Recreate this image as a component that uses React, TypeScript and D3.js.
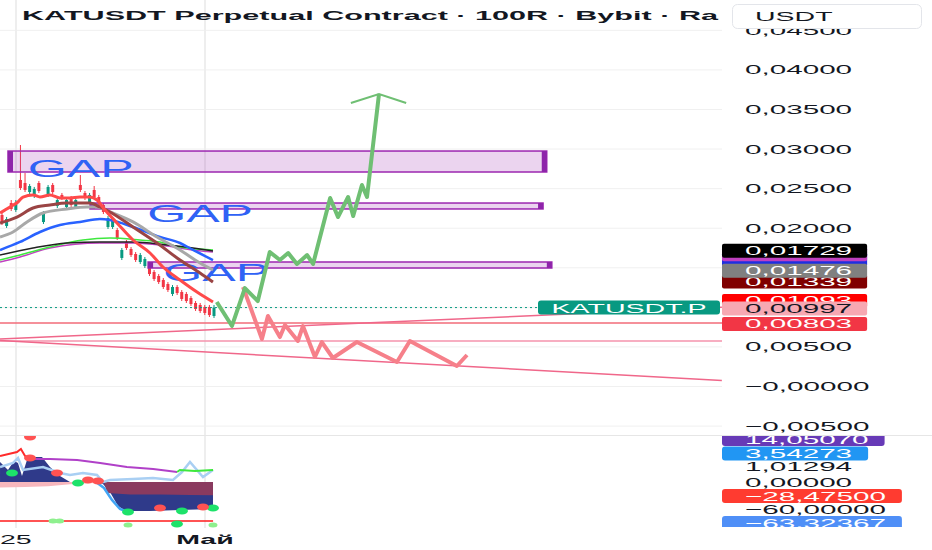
import * as d3 from "d3";
import React from "react";

const W = 932;
const H = 550;
const AXIS_X = 722;
const MAIN_BOTTOM = 435;
const IND_TOP = 436;
const IND_BOTTOM = 528;
const FONT = "'Liberation Sans', Arial, sans-serif";
const SX = 2.28; // the screenshot is stretched horizontally

// ---- candles (bar index = position) ----
const candleOpen = [0.02167, 0.02028, 0.02318, 0.0223, 0.02609, 0.02571, 0.02457, 0.02407, 0.02571, 0.02078, 0.0242, 0.02546, 0.02281, 0.0242, 0.02268, 0.02382, 0.02268, 0.02546, 0.02445, 0.02331, 0.02483, 0.02394, 0.02293, 0.02015, 0.02015, 0.01977, 0.01624, 0.01826, 0.01737, 0.01674, 0.01573, 0.01522, 0.01522, 0.01447, 0.01396, 0.01346, 0.01295, 0.01169, 0.01257, 0.01194, 0.01169, 0.01118, 0.01055, 0.0103, 0.01005, 0.01005, 0.00891];
const candleHigh = [0.02205, 0.02142, 0.02356, 0.02356, 0.03051, 0.02697, 0.02558, 0.02521, 0.02596, 0.02217, 0.02546, 0.02571, 0.02382, 0.02445, 0.02382, 0.02407, 0.02382, 0.02672, 0.0247, 0.02445, 0.02533, 0.0242, 0.02318, 0.02154, 0.02142, 0.02003, 0.0175, 0.01851, 0.01762, 0.01699, 0.01687, 0.01636, 0.01548, 0.01472, 0.01421, 0.01371, 0.0132, 0.01282, 0.01282, 0.01219, 0.01194, 0.01143, 0.0108, 0.01055, 0.0103, 0.0103, 0.0103];
const candleLow = [0.0204, 0.02003, 0.02217, 0.02205, 0.02483, 0.02457, 0.02432, 0.02382, 0.02445, 0.02053, 0.02394, 0.02432, 0.02255, 0.02356, 0.02243, 0.02268, 0.02243, 0.02457, 0.02356, 0.02306, 0.02369, 0.02293, 0.02179, 0.0199, 0.0199, 0.01851, 0.01598, 0.01725, 0.01636, 0.01573, 0.01548, 0.01497, 0.01396, 0.01333, 0.01295, 0.01232, 0.01194, 0.01143, 0.01156, 0.0108, 0.01055, 0.01017, 0.00954, 0.00929, 0.00903, 0.00878, 0.00866];
const candleClose = [0.02078, 0.02116, 0.02243, 0.02318, 0.02508, 0.02483, 0.02533, 0.02495, 0.0247, 0.02192, 0.02521, 0.02457, 0.02356, 0.02382, 0.02356, 0.02293, 0.02356, 0.02483, 0.02382, 0.0242, 0.02394, 0.02318, 0.02205, 0.02129, 0.02116, 0.01876, 0.01725, 0.0175, 0.01661, 0.01598, 0.01661, 0.01611, 0.01421, 0.01358, 0.0132, 0.01257, 0.01219, 0.01257, 0.01181, 0.01106, 0.0108, 0.01042, 0.00979, 0.00954, 0.00929, 0.00903, 0.00997];

// ---- moving averages: [bar, price] ----
const maRed: [number, number][] = [[-0.43, 0.02192], [1.74, 0.02268], [3.47, 0.02331], [4.56, 0.02394], [6.73, 0.0242], [8.24, 0.02394], [10.41, 0.0242], [12.58, 0.02382], [14.75, 0.02382], [16.92, 0.02394], [19.09, 0.02394], [20.61, 0.02356], [22.35, 0.0223], [24.95, 0.02066], [28.42, 0.01851], [32.11, 0.01687], [34.93, 0.0151], [38.62, 0.01346], [42.31, 0.01194], [45.78, 0.01068]];
const maMaroon: [number, number][] = [[-0.43, 0.02066], [3.25, 0.02141], [6.73, 0.02255], [10.41, 0.02293], [14.1, 0.02318], [19.09, 0.02318], [21.26, 0.02268], [23.43, 0.02205], [28.42, 0.02015], [33.63, 0.01813], [38.62, 0.01598], [42.96, 0.01434], [45.78, 0.0132]];
const maGray: [number, number][] = [[-0.43, 0.01889], [2.39, 0.01952], [5.42, 0.02079], [8.9, 0.02192], [14.1, 0.02243], [18.44, 0.02268], [20.61, 0.02268], [23.43, 0.02205], [28.42, 0.02079], [33.63, 0.01889], [38.62, 0.01725], [42.96, 0.0156], [45.78, 0.01472]];
const maBlue: [number, number][] = [[-0.43, 0.01725], [3.91, 0.01826], [8.24, 0.01952], [12.58, 0.0204], [16.92, 0.02079], [21.26, 0.02116], [23.43, 0.02104], [28.42, 0.02015], [34.28, 0.01889], [38.62, 0.01813], [41.44, 0.01725], [45.78, 0.01598]];
const maGreen: [number, number][] = [[-0.43, 0.01598], [3.91, 0.01661], [10.41, 0.01762], [17.57, 0.01851], [23.43, 0.01876], [29.94, 0.01851], [34.28, 0.01826], [38.62, 0.01762], [45.78, 0.01725]];
const maBlack: [number, number][] = [[-0.43, 0.01661], [6.73, 0.0175], [14.1, 0.01813], [21.26, 0.01826], [28.42, 0.01826], [35.8, 0.01788], [41.44, 0.0175], [45.78, 0.01712]];
const maMagenta: [number, number][] = [[-0.43, 0.01573], [3.91, 0.01636], [10.41, 0.0175], [21.26, 0.01813], [28.42, 0.01813], [35.8, 0.01776], [41.44, 0.01725], [45.78, 0.01699]];

// ---- drawings ----
const gapBoxes: { x0: number; x1: number; top: number; bottom: number; textBar: number; textPrice: number }[] = [
  { x0: 1.3, x1: 118.2, top: 0.02975, bottom: 0.0271, textBar: 5.6, textPrice: 0.02647 },
  { x0: 19.1, x1: 117.4, top: 0.02318, bottom: 0.02243, textBar: 31.5, textPrice: 0.02078 },
  { x0: 31.7, x1: 119.3, top: 0.01573, bottom: 0.01497, textBar: 35.0, textPrice: 0.01333 },
];
const greenPath: [number, number][] = [[46.6, 0.01068], [49.9, 0.00765], [52.7, 0.01244], [55.5, 0.0108], [58.1, 0.01699], [60.3, 0.01598], [62.1, 0.01686], [64.0, 0.01548], [66.2, 0.01661], [67.5, 0.01548], [71.2, 0.02381], [72.9, 0.02141], [75.1, 0.02394], [76.2, 0.02154], [78.1, 0.02546], [79.2, 0.02394], [81.8, 0.03695]];
const greenArrow: [number, number][] = [[75.7, 0.03582], [81.8, 0.03695], [87.7, 0.03582]];
const redPath: [number, number][] = [[52.3, 0.01257], [56.4, 0.006], [57.7, 0.00891], [60.3, 0.00625], [61.4, 0.00777], [64.2, 0.00575], [65.3, 0.00764], [67.9, 0.00373], [69.4, 0.00562], [71.8, 0.0036], [77.0, 0.00562], [85.7, 0.00309], [88.5, 0.00575], [98.7, 0.00259], [100.9, 0.00398]];
const hLevels = [0.00803, 0.00575];
const trendUp: [number, number][] = [[-0.43, 0.006], [156.2, 0.01]];
const trendDown: [number, number][] = [[-0.43, 0.0058], [156.2, 0.00076]];
const lastPrice = 0.00997;

// ---- price axis ----
const priceTicks = [0.045, 0.04, 0.035, 0.03, 0.025, 0.02, 0.015, 0.01, 0.005, 0, -0.005];
const priceTickLabels = ["0,04500", "0,04000", "0,03500", "0,03000", "0,02500", "0,02000", "0,01500", "0,01000", "0,00500", "−0,00000", "−0,00500"];
// blue and magenta tags sit almost entirely under their neighbours
const tagValues = [0.0162, 0.01683, 0.01339, 0.01093, 0.01476, 0.01729, 0.00997, 0.00803];
const tagLabels = ["", "", "0,01339", "0,01093", "0,01476", "0,01729", "0,00997", "0,00803"];
const TAG_FILL = ["#1f2fe0", "#c040c0", "#800000", "#ff0000", "#808080", "#000000", "#f7a8b2", "#f23645"];
const TAG_TEXT = ["#fff", "#fff", "#fff", "#fff", "#fff", "#fff", "#131722", "#fff"];

// ---- indicator pane (pane units) ----
const indNavy: [number, number][] = [[-0.43, 43.5], [1.3, 26.1], [2.6, 45.7], [3.47, 41.3], [4.34, 13], [5.42, 47.8], [6.51, 54.3], [8.68, 54.3], [10.41, 32.6], [12.58, 13], [14.75, 0], [20.83, 0], [21.91, -4.3], [23.43, -21.7], [25.17, -52.2], [26.9, -63], [32.11, -63], [38.62, -60.9], [45.78, -58.7]];
const indMaroon: [number, number][] = [[22.13, 0], [22.78, -24], [27.77, -27], [34.28, -27], [40.79, -28], [45.78, -29]];
const indPink: [number, number][] = [[-0.43, -12], [5, -11], [10, -9], [14.75, -5], [20, -2], [21, 0]];
const indLightBlue: [number, number][] = [[-0.43, 32.6], [2.39, 41.3], [3.47, 52.2], [4.56, 26.1], [8.9, 32.6], [12.58, 19.6], [14.75, 15.2], [17.57, 19.6], [20.61, 15.2], [21.91, 0], [23.43, 4.3], [28.42, 6.5], [32.76, 8.7], [37.1, 4.3], [39.05, 21.7], [40.79, 43.5], [43.61, 10.9], [45.78, 26.1]];
const indBlueEdge: [number, number][] = [[20.4, 0], [22.13, -13], [23.86, -39], [25.6, -58.7], [27.34, -65.2]];
const rsiRed: [number, number][] = [[-0.43, 56.5], [3.25, 65.2], [4.1, 71.7], [5.0, 56.5], [6.7, 50]];
const rsiPurple: [number, number][] = [[6.7, 50], [10.4, 50], [16.3, 47.8], [21.3, 41.3], [27.1, 32.6], [32.8, 28.3], [38.0, 21.7]];
const rsiGreen: [number, number][] = [[38.0, 21.7], [38.6, 26.1], [41.9, 23.9], [45.8, 26.1]];
const indLevel = -85;
const greenDots: [number, number][] = [[2.17, 19.6], [16.49, -2.2], [27.34, -65.2], [39.05, -63], [45.78, -56.5], [37.97, -91.3]];
const paleDots: [number, number][] = [[11.07, -85], [12.5, -85], [27.34, -93.5], [45.78, -93.5]];
const redDots: [number, number][] = [[6.08, 52.2], [11.93, 19.6], [18.66, 4.3], [20.83, 2.2], [34.28, -56.5], [43.61, -54.3], [6.08, 97.8]];
const indLabelLevels = [33, 0, -60];
const indLabelTexts = ["1,01294", "0,00000", "−60,00000"];
const indTagLevels = [93.5, 62, -30.4, -89];
const indTagTexts = ["14,05070", "3,54273", "−28,47500", "−63,32367"];
const IND_TAG_FILL = ["#673ab7", "#2196f3", "#ff3b30", "#4f8ff7"];

// ---- time axis ----
const timeGrid = [3.04, 44.04];
const timeLabelBars = [-0.43, 44.04];
const timeLabels = ["25", "Май"];
const TIME_ANCHOR = ["start", "middle"];

const CHAR_W: Record<string, number> = { ",": 0.278, ".": 0.278, "−": 0.584 };
const textW = (s: string, size = 13) =>
  [...(s || "0,00000")].reduce((a, ch) => a + (CHAR_W[ch] ?? 0.556), 0) * size * SX;

const SText: React.FC<{
  x: number; y: number; anchor?: string; size?: number; weight?: number; fill?: string; sx?: number; children: React.ReactNode;
}> = ({ x, y, anchor = "start", size = 13, weight = 400, fill = "#131722", sx = SX, children }) => (
  <text
    transform={`translate(${x},${y}) scale(${sx},1)`}
    textAnchor={anchor}
    fontSize={size}
    fontWeight={weight}
    fill={fill}
    fontFamily={FONT}
  >
    {children}
  </text>
);

export default function App() {
  const x = d3.scaleLinear().domain([0, 46]).range([2, 214]);
  const y = d3.scaleLinear().domain([0, 0.04]).range([386.5, 69.9]);
  const iy = d3.scaleLinear().domain([-100, 100]).range([IND_BOTTOM, IND_TOP]);

  const line = d3.line<[number, number]>().x((d) => x(d[0])).y((d) => y(d[1]));
  const smooth = d3.line<[number, number]>().x((d) => x(d[0])).y((d) => y(d[1])).curve(d3.curveMonotoneX);
  const iline = d3.line<[number, number]>().x((d) => x(d[0])).y((d) => iy(d[1]));
  const iarea = d3.area<[number, number]>().x((d) => x(d[0])).y0(iy(0)).y1((d) => iy(d[1]));

  const mas: { d: [number, number][]; c: string; w: number }[] = [
    { d: maMagenta, c: "#c040c0", w: 1.5 },
    { d: maGreen, c: "#3ee83e", w: 1.5 },
    { d: maBlack, c: "#222222", w: 1.5 },
    { d: maBlue, c: "#2962ff", w: 2.5 },
    { d: maGray, c: "#a8a8a8", w: 3 },
    { d: maMaroon, c: "#9a4444", w: 3 },
    { d: maRed, c: "#ff4a4a", w: 3 },
  ];

  return (
    <svg width={W} height={H} style={{ position: "absolute", left: 0, top: 0, background: "#fff" }}>
      <defs>
        <clipPath id="mainClip"><rect x={0} y={0} width={AXIS_X} height={MAIN_BOTTOM} /></clipPath>
        <clipPath id="indClip"><rect x={0} y={IND_TOP} width={AXIS_X} height={IND_BOTTOM - IND_TOP} /></clipPath>
        <clipPath id="indAxisClip"><rect x={AXIS_X} y={IND_TOP} width={W - AXIS_X} height={IND_BOTTOM - IND_TOP - 1} /></clipPath>
      </defs>
      <rect width={W} height={H} fill="#fff" />

      {/* grid */}
      {priceTicks.map((t) => (
        <line key={t} x1={0} x2={AXIS_X} y1={y(t)} y2={y(t)} stroke="#f0f0f0" />
      ))}
      {timeGrid.map((t) => (
        <line key={t} x1={x(t)} x2={x(t)} y1={0} y2={IND_BOTTOM} stroke="#eeeeee" strokeWidth={2} />
      ))}

      <g clipPath="url(#mainClip)">
        {/* candles */}
        {candleOpen.map((o, i) => {
          const c = candleClose[i];
          const col = c >= o ? "#089981" : "#f23645";
          const top = y(Math.max(o, c));
          const h = Math.max(1, Math.abs(y(o) - y(c)));
          return (
            <g key={i}>
              <line x1={x(i)} x2={x(i)} y1={y(candleHigh[i])} y2={y(candleLow[i])} stroke={col} strokeWidth={1} />
              <rect x={x(i) - 1.5} y={top} width={3} height={h} fill={col} />
            </g>
          );
        })}

        {/* gap boxes */}
        {gapBoxes.map((b, i) => (
          <g key={i}>
            <rect x={x(b.x0)} y={y(b.top)} width={x(b.x1) - x(b.x0)} height={y(b.bottom) - y(b.top)}
              fill="rgba(156,39,176,0.2)" stroke="#9c27b0" strokeWidth={1.5} />
            <rect x={x(b.x0)} y={y(b.top)} width={5} height={y(b.bottom) - y(b.top)} fill="#8e24aa" />
            <rect x={x(b.x1) - 5} y={y(b.top)} width={5} height={y(b.bottom) - y(b.top)} fill="#8e24aa" />
          </g>
        ))}
        {gapBoxes.map((b, i) => (
          <SText key={i} x={x(b.textBar)} y={y(b.textPrice)} size={24} sx={2.09} fill="#2f62f5">GAP</SText>
        ))}

        {/* moving averages */}
        {mas.map((m, i) => (
          <path key={i} d={smooth(m.d) ?? ""} fill="none" stroke={m.c} strokeWidth={m.w} strokeLinejoin="round" />
        ))}

        {/* levels & trend lines */}
        <line x1={0} x2={AXIS_X} y1={y(hLevels[0])} y2={y(hLevels[0])} stroke="#f26b78" strokeWidth={1.5} />
        <line x1={0} x2={AXIS_X} y1={y(hLevels[1])} y2={y(hLevels[1])} stroke="#f493ad" strokeWidth={1.5} />
        <path d={line(trendUp) ?? ""} stroke="#f0678a" strokeWidth={1.5} fill="none" />
        <path d={line(trendDown) ?? ""} stroke="#f0678a" strokeWidth={1.5} fill="none" />
        <line x1={0} x2={538} y1={y(lastPrice)} y2={y(lastPrice)} stroke="#089981" strokeWidth={1} strokeDasharray="2 3" />

        {/* projections */}
        <path d={line(redPath) ?? ""} fill="none" stroke="#f6808a" strokeWidth={4} strokeLinejoin="round" />
        <path d={line(greenPath) ?? ""} fill="none" stroke="#6fbf73" strokeWidth={4} strokeLinejoin="round" />
        <path d={line(greenArrow) ?? ""} fill="none" stroke="#6fbf73" strokeWidth={2} />
      </g>

      {/* title */}
      <text x={22} y={20} fontFamily={FONT} fontWeight={700} fontSize={13} fill="#131722"
        textLength={696} lengthAdjust="spacingAndGlyphs">
        KATUSDT Perpetual Contract · 100R · Bybit · Ra
      </text>

      {/* indicator pane */}
      <g clipPath="url(#indClip)">
        <path d={iarea(indPink) ?? ""} fill="#f7b7bd" />
        <path d={iarea(indNavy) ?? ""} fill="#2f3a8a" />
        <path d={iarea(indMaroon) ?? ""} fill="#8a3a5f" />
        <path d={iline(indLightBlue) ?? ""} fill="none" stroke="#a9cff3" strokeWidth={2.5} />
        <path d={iline(indBlueEdge) ?? ""} fill="none" stroke="#42a5f5" strokeWidth={2.5} />
        <path d={iline(rsiRed) ?? ""} fill="none" stroke="#ff2b2b" strokeWidth={2} />
        <path d={iline(rsiPurple) ?? ""} fill="none" stroke="#b040c8" strokeWidth={2} />
        <path d={iline(rsiGreen) ?? ""} fill="none" stroke="#3ee83e" strokeWidth={2} />
        <line x1={0} x2={x(45.8)} y1={iy(indLevel)} y2={iy(indLevel)} stroke="#ff1a1a" strokeWidth={1.5} />
        {paleDots.map((d, i) => (
          <ellipse key={i} cx={x(d[0])} cy={iy(d[1])} rx={4.5} ry={2.5} fill="#8ef08e" />
        ))}
        {greenDots.map((d, i) => (
          <ellipse key={i} cx={x(d[0])} cy={iy(d[1])} rx={6} ry={3.5} fill="#1de26a" />
        ))}
        {redDots.map((d, i) => (
          <ellipse key={i} cx={x(d[0])} cy={iy(d[1])} rx={6} ry={3.5} fill="#ff5252" />
        ))}
      </g>
      <line x1={0} x2={W} y1={MAIN_BOTTOM + 0.5} y2={MAIN_BOTTOM + 0.5} stroke="#e6e6e6" />

      {/* price axis */}
      <rect x={AXIS_X} y={0} width={W - AXIS_X} height={MAIN_BOTTOM} fill="#fff" />
      {priceTicks.map((t, i) => (
        <SText key={t} x={745} y={y(t) + 4.5}>{priceTickLabels[i]}</SText>
      ))}
      {tagValues.map((v, i) => (
        <g key={i}>
          <rect x={AXIS_X} y={y(v) - 6} width={23 + textW(tagLabels[i]) + 15} height={14} rx={2} fill={TAG_FILL[i]} />
          {tagLabels[i] && <SText x={745} y={y(v) + 5.5} fill={TAG_TEXT[i]}>{tagLabels[i]}</SText>}
        </g>
      ))}

      {/* last price symbol tag */}
      <rect x={538} y={y(lastPrice) - 7} width={AXIS_X - 538 - 2} height={14} rx={3} fill="#089981" />
      <text x={629} y={y(lastPrice) + 5} textAnchor="middle" fontFamily={FONT} fontSize={13} fill="#fff"
        textLength={155} lengthAdjust="spacingAndGlyphs">KATUSDT.P</text>

      {/* indicator axis */}
      <rect x={AXIS_X} y={IND_TOP} width={W - AXIS_X} height={IND_BOTTOM - IND_TOP} fill="#fff" />
      <g clipPath="url(#indAxisClip)">
        {indLabelLevels.map((v, i) => (
          <SText key={i} x={745} y={iy(v) + 4.5}>{indLabelTexts[i]}</SText>
        ))}
        {indTagLevels.map((v, i) => (
          <g key={i}>
            <rect x={AXIS_X} y={iy(v) - 7} width={23 + textW(indTagTexts[i]) + 16} height={14} rx={3} fill={IND_TAG_FILL[i]} />
            <SText x={745} y={iy(v) + 5} fill="#fff">{indTagTexts[i]}</SText>
          </g>
        ))}
      </g>

      {/* currency box */}
      <rect x={732.5} y={4.5} width={189} height={24} rx={5} fill="#fff" stroke="#e3e5ea" />
      <SText x={755} y={21} size={12.5}>USDT</SText>

      {/* time axis */}
      {timeLabels.map((t, i) => (
        <SText key={i} x={Math.max(0, x(timeLabelBars[i]))} y={544} anchor={TIME_ANCHOR[i]} size={12.5} weight={i === 1 ? 700 : 400}>{t}</SText>
      ))}
    </svg>
  );
}
